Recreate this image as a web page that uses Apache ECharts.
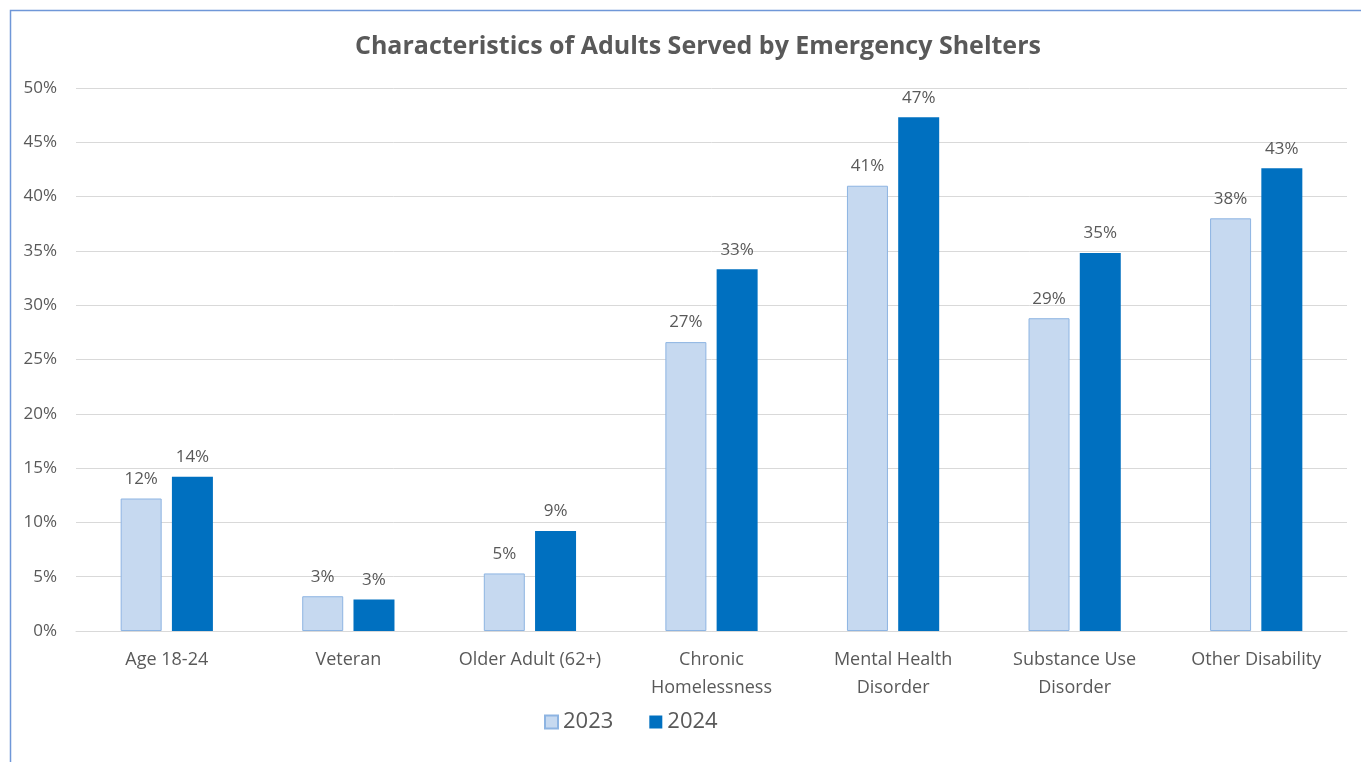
<!DOCTYPE html>
<html>
<head>
<meta charset="utf-8">
<script src="https://cdn.jsdelivr.net/npm/echarts@6/dist/echarts.min.js"></script>
<style>
  html, body { margin: 0; padding: 0; background: #fff; }
  #chart { width: 1361px; height: 762px; }
</style>
</head>
<body>
<div id="chart"></div>
<script>
// Share of adults served by emergency shelters, by characteristic (percent)
const categories = ['Age 18-24', 'Veteran', 'Older Adult (62+)', 'Chronic\nHomelessness',
  'Mental Health\nDisorder', 'Substance Use\nDisorder', 'Other Disability'];
const values2023 = [12.2, 3.2, 5.3, 26.6, 41.0, 28.8, 38.0];
const values2024 = [14.2, 2.9, 9.2, 33.3, 47.3, 34.8, 42.6];
const seriesNames = ['2023', '2024'];
const yTicks = [0, 5, 10, 15, 20, 25, 30, 35, 40, 45, 50];

const FONT = '"Open Sans", "Liberation Sans", sans-serif';
const TEXT = '#595959';

const chart = echarts.init(document.getElementById('chart'), null, { renderer: 'canvas' });

const label = {
  show: true,
  position: 'top',
  distance: 11,
  color: TEXT,
  fontFamily: FONT,
  fontSize: 17,
  formatter: p => Math.round(p.value) + '%'
};

chart.setOption({
  backgroundColor: '#fff',
  animation: false,
  title: {
    text: 'Characteristics of Adults Served by Emergency Shelters',
    left: 350,
    top: 29,
    textStyle: { color: TEXT, fontFamily: FONT, fontSize: 25, fontWeight: 'bold' }
  },
  graphic: [{
    type: 'rect',
    shape: { x: 10.5, y: 10.5, width: 1400, height: 800 },
    style: { fill: 'none', stroke: '#6F97D8', lineWidth: 1.5 },
    silent: true
  }],
  legend: {
    data: seriesNames,
    top: 706,
    left: 539,
    icon: 'rect',
    itemWidth: 13,
    itemHeight: 13,
    itemGap: 36,
    textStyle: { color: TEXT, fontFamily: FONT, fontSize: 22 }
  },
  grid: { left: 76, right: 14, top: 88, bottom: 131, containLabel: false },
  xAxis: {
    type: 'category',
    data: categories,
    axisLine: { lineStyle: { color: '#D9D9D9', width: 1 } },
    axisTick: { show: false },
    axisLabel: {
      color: TEXT, fontFamily: FONT, fontSize: 18, lineHeight: 28,
      margin: 15, interval: 0
    }
  },
  yAxis: {
    type: 'value',
    min: 0,
    max: 50,
    interval: 5,
    axisLine: { show: false },
    axisTick: { show: false },
    splitLine: { lineStyle: { color: '#D9D9D9', width: 1 } },
    axisLabel: {
      color: TEXT, fontFamily: FONT, fontSize: 17, margin: 19,
      formatter: v => (yTicks.includes(v) ? v + '%' : '')
    }
  },
  series: [
    {
      name: seriesNames[0],
      type: 'bar',
      data: values2023,
      barWidth: 41,
      barGap: '25%',
      itemStyle: { color: '#C6D9F0', borderColor: '#8DB4E2', borderWidth: 1 },
      label
    },
    {
      name: seriesNames[1],
      type: 'bar',
      data: values2024,
      barWidth: 41,
      barGap: '25%',
      itemStyle: { color: '#0070C0' },
      label
    }
  ]
});
</script>
</body>
</html>
